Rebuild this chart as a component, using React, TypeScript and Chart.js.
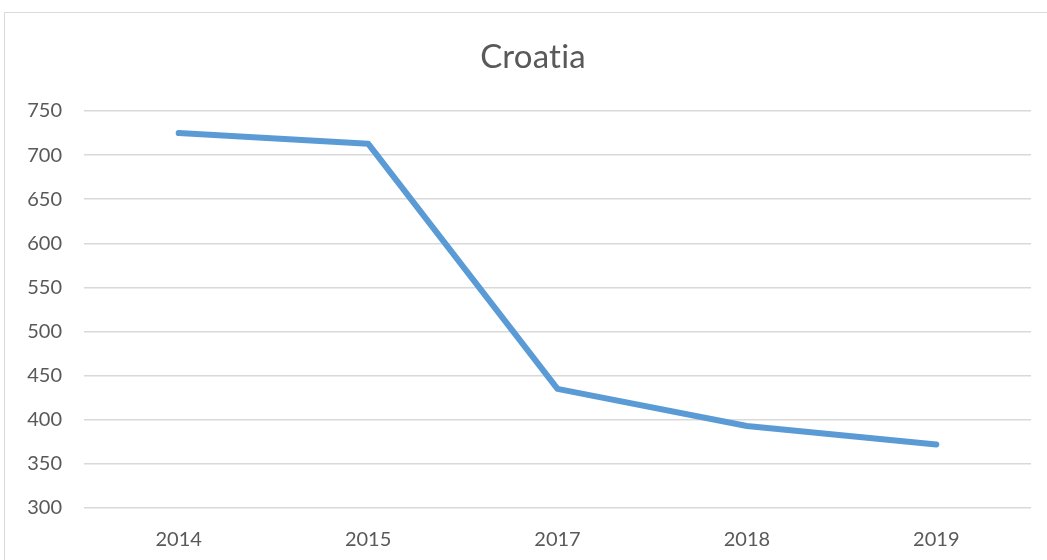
import React, { useEffect, useRef } from "react";
import { Chart, registerables } from "chart.js";

Chart.register(...registerables);

const categories = ["2014", "2015", "2017", "2018", "2019"];
const values = [725, 713, 435, 393, 372];
const yMin = 300;
const yMax = 750;
const yStep = 50;
const titleText = "Croatia";

const FONT = "Lato, 'Open Sans', sans-serif";

const centeredTitle = {
  id: "centeredTitle",
  afterDraw(chart: any) {
    const c = chart.ctx as any;
    c.save();
    try {
      c.letterSpacing = "0.2px";
    } catch (e) {}
    c.font = `normal 33px ${FONT}`;
    c.fillStyle = "#595959";
    c.textAlign = "center";
    c.textBaseline = "middle";
    c.fillText(titleText, 533, 57);
    c.restore();
  },
};

export default function App() {
  const ref = useRef<HTMLCanvasElement | null>(null);

  useEffect(() => {
    document.body.style.margin = "0";
    const ctx = ref.current!;
    const chart = new Chart(ctx, {
      type: "line",
      data: {
        labels: categories,
        datasets: [
          {
            data: values,
            borderColor: "#5b9bd5",
            borderWidth: 6,
            borderCapStyle: "round",
            borderJoinStyle: "round",
            pointRadius: 0,
            tension: 0,
            fill: false,
          },
        ],
      },
      options: {
        animation: false,
        responsive: false,
        maintainAspectRatio: false,
        devicePixelRatio: 1,
        layout: { padding: { left: 0, right: 16, top: 111, bottom: 0 } },
        plugins: {
          legend: { display: false },
          tooltip: { enabled: false },
          title: { display: false },
        },
        scales: {
          x: {
            offset: true,
            grid: { display: false, drawTicks: false },
            border: { display: false },
            ticks: {
              color: "#595959",
              font: { family: FONT, size: 20 },
              padding: 20,
              maxRotation: 0,
            },
            afterFit: (s: any) => {
              s.height = 52;
            },
          },
          y: {
            min: yMin,
            max: yMax,
            ticks: {
              stepSize: yStep,
              color: "#595959",
              font: { family: FONT, size: 20 },
              padding: 22,
            },
            grid: { color: "#d9d9d9", lineWidth: 1.5, drawTicks: false },
            border: { display: false },
            afterFit: (s: any) => {
              s.width = 84;
            },
          },
        },
      },
      plugins: [centeredTitle],
    });
    return () => chart.destroy();
  }, []);

  return (
    <div style={{ position: "relative", width: 1047, height: 560, background: "#fff", overflow: "hidden" }}>
      <div
        style={{
          position: "absolute",
          left: 4,
          top: 12,
          width: 1100,
          height: 600,
          borderLeft: "1.5px solid #d9d9d9",
          borderTop: "1.5px solid #d9d9d9",
        }}
      />
      <canvas ref={ref} width={1047} height={560} style={{ position: "absolute", left: 0, top: 0 }} />
    </div>
  );
}
